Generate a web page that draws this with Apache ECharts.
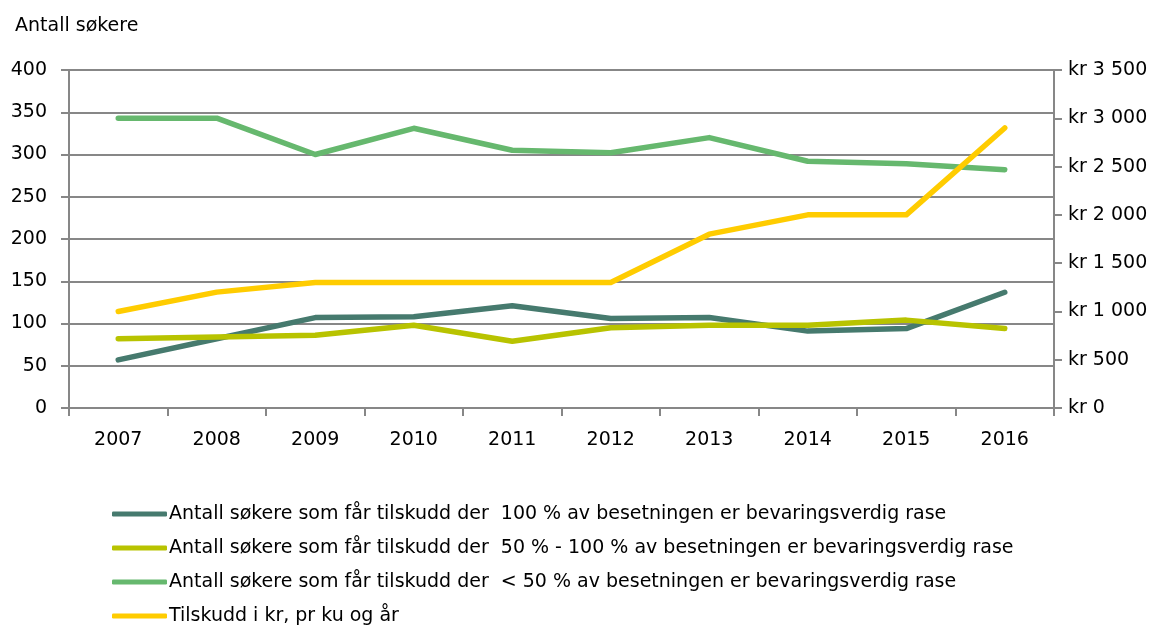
<!DOCTYPE html>
<html>
<head>
<meta charset="utf-8">
<script src="https://cdn.jsdelivr.net/npm/echarts@6/dist/echarts.min.js"></script>
<style>
  html, body { margin: 0; padding: 0; background: #fff; }
  #chart { width: 1164px; height: 628px; }
</style>
</head>
<body>
<div id="chart"></div>
<script>
// kategorier (år)
const years = ['2007', '2008', '2009', '2010', '2011', '2012', '2013', '2014', '2015', '2016'];

// antall søkere
const full100 = [57, 82, 107, 108, 121, 106, 107, 91, 94, 137];
const from50to100 = [82, 84, 86, 98, 79, 95, 98, 98, 104, 94];
const under50 = [343, 343, 300, 331, 305, 302, 320, 292, 289, 282];

// tilskudd i kr pr ku og år
const tilskudd = [1000, 1200, 1300, 1300, 1300, 1300, 1800, 2000, 2000, 2900];

const seriesNames = [
  'Antall søkere som får tilskudd der  100 % av besetningen er bevaringsverdig rase',
  'Antall søkere som får tilskudd der  50 % - 100 % av besetningen er bevaringsverdig rase',
  'Antall søkere som får tilskudd der  < 50 % av besetningen er bevaringsverdig rase',
  'Tilskudd i kr, pr ku og år'
];

const fontFamily = '"DejaVu Sans", "Open Sans", sans-serif';

const chart = echarts.init(document.getElementById('chart'));

// lager en linjeserie
const makeLine = (name, data, color, axisIndex) => ({
  name: name,
  type: 'line',
  yAxisIndex: axisIndex,
  data: data,
  symbol: 'none',
  lineStyle: { width: 5.5, color: color, cap: 'round', join: 'round' },
  itemStyle: { color: color },
  animation: false
});

chart.setOption({
  textStyle: { fontFamily: fontFamily },
  title: {
    text: 'Antall søkere',
    left: 10,
    top: 12,
    textStyle: { fontSize: 19, fontWeight: 'normal', color: '#000', fontFamily: fontFamily }
  },
  grid: { left: 69, right: 110, top: 70, bottom: 220 },
  legend: {
    orient: 'vertical',
    left: 112,
    top: 504,
    padding: 0,
    itemWidth: 55,
    itemHeight: 5,
    itemGap: 14,
    icon: 'roundRect',
    textStyle: { fontSize: 19, color: '#000', lineHeight: 20, padding: [0, 0, 0, -3] },
    data: seriesNames
  },
  xAxis: {
    type: 'category',
    data: years,
    boundaryGap: true,
    axisLine: { lineStyle: { color: '#878787', width: 2 } },
    axisTick: { show: true, length: 8, lineStyle: { color: '#878787', width: 2 } },
    axisLabel: { fontSize: 19, color: '#000', margin: 23 }
  },
  yAxis: [
    {
      type: 'value',
      min: 0,
      max: 400,
      interval: 50,
      axisLine: { show: true, lineStyle: { color: '#878787', width: 2 } },
      axisTick: { show: true, length: 8, lineStyle: { color: '#878787', width: 2 } },
      splitLine: { lineStyle: { color: '#878787', width: 2 } },
      axisLabel: { fontSize: 19, color: '#000', margin: 22 }
    },
    {
      type: 'value',
      min: 0,
      max: 3500,
      interval: 500,
      position: 'right',
      axisLine: { show: true, lineStyle: { color: '#878787', width: 2 } },
      axisTick: { show: true, length: 8, lineStyle: { color: '#878787', width: 2 } },
      splitLine: { show: false },
      axisLabel: {
        fontSize: 19,
        color: '#000',
        margin: 14,
        formatter: (v) => 'kr ' + String(v).replace(/\B(?=(\d{3})+(?!\d))/g, ' ')
      }
    }
  ],
  series: [
    makeLine(seriesNames[0], full100, '#467a6e', 0),
    makeLine(seriesNames[1], from50to100, '#b8c300', 0),
    makeLine(seriesNames[2], under50, '#66b86e', 0),
    makeLine(seriesNames[3], tilskudd, '#ffcc00', 1)
  ]
});
</script>
</body>
</html>
